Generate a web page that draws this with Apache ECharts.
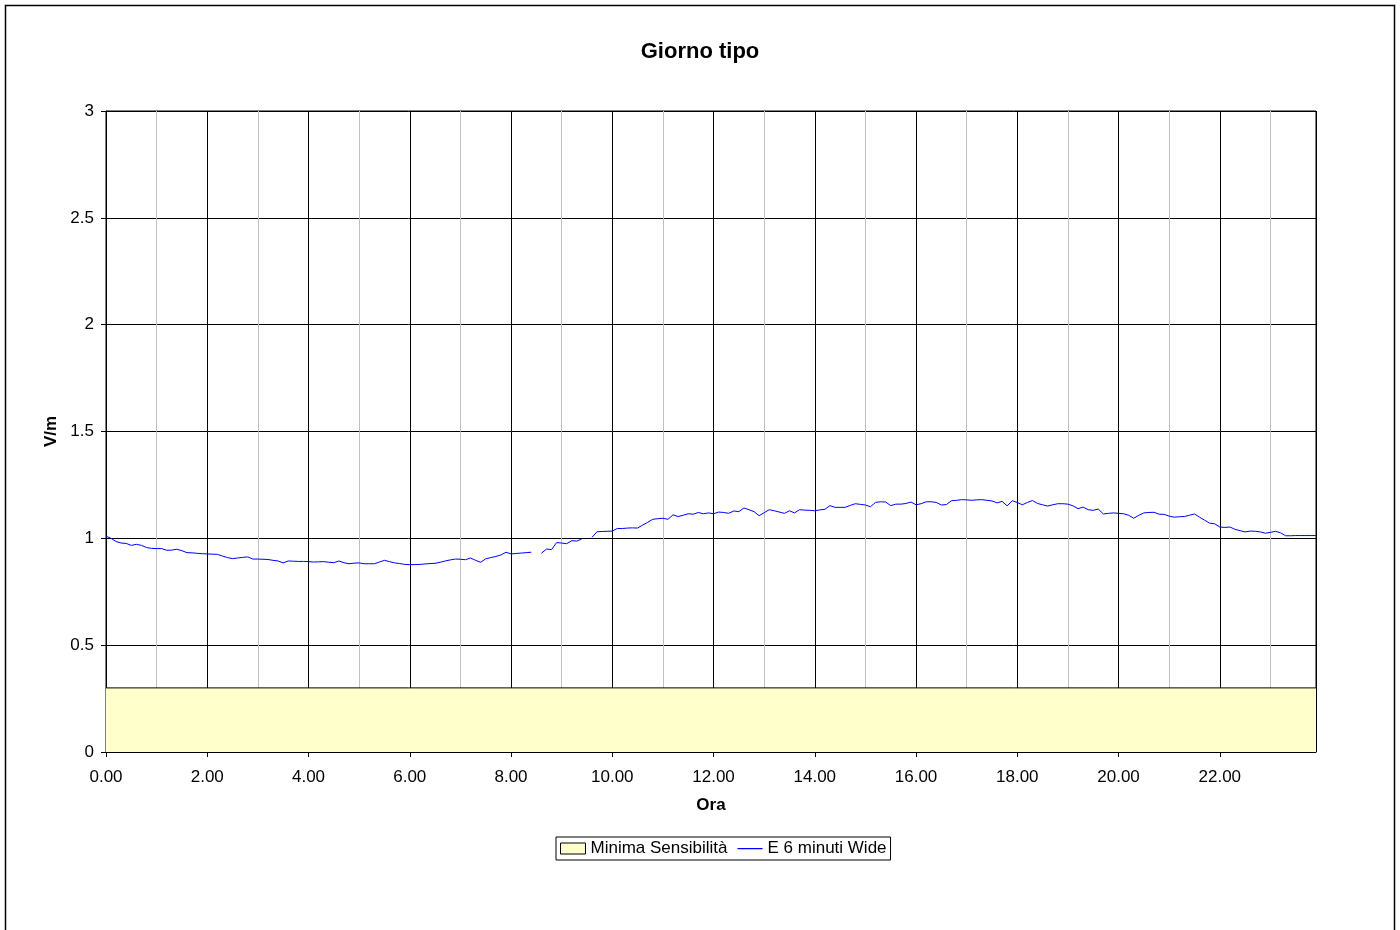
<!DOCTYPE html>
<html>
<head>
<meta charset="utf-8">
<script src="https://cdn.jsdelivr.net/npm/echarts@6/dist/echarts.min.js"></script>
<style>
html,body{margin:0;padding:0;background:#fff;}
#chart{width:1400px;height:930px;}
</style>
</head>
<body>
<div id="chart"></div>
<script>
// Values every 6 minutes (0.1 h), '-' = missing sample
var e00_06 = [1.01,1.00,0.985,0.978,0.976,0.967,0.972,0.967,0.957,0.953,
  0.952,0.952,0.944,0.945,0.949,0.942,0.933,0.932,0.930,0.928,
  0.927,0.926,0.925,0.917,0.910,0.905,0.908,0.911,0.913,0.903,
  0.903,0.902,0.901,0.897,0.894,0.885,0.894,0.893,0.892,0.892,
  0.891,0.889,0.890,0.891,0.888,0.886,0.894,0.886,0.881,0.884,
  0.885,0.881,0.881,0.881,0.889,0.897,0.891,0.885,0.882,0.878];
var e06_12 = [0.877,0.877,0.878,0.880,0.882,0.883,0.888,0.894,0.899,0.903,
  0.902,0.900,0.908,0.897,0.888,0.904,0.910,0.915,0.922,0.935,
  0.927,0.929,0.931,0.933,0.935,'-',0.930,0.950,0.947,0.980,
  0.978,0.975,0.989,0.987,0.998,'-',1.005,1.031,1.032,1.033,
  1.034,1.046,1.046,1.048,1.049,1.048,1.062,1.075,1.089,1.092,
  1.094,1.089,1.110,1.102,1.108,1.115,1.113,1.121,1.115,1.119];
var e12_18 = [1.115,1.123,1.121,1.117,1.128,1.125,1.142,1.134,1.125,1.106,
  1.120,1.134,1.129,1.123,1.117,1.129,1.119,1.134,1.132,1.131,
  1.129,1.133,1.136,1.153,1.145,1.145,1.145,1.154,1.162,1.159,
  1.156,1.148,1.168,1.171,1.170,1.153,1.160,1.160,1.163,1.170,
  1.157,1.162,1.171,1.171,1.168,1.156,1.158,1.176,1.178,1.181,
  1.180,1.178,1.180,1.181,1.178,1.175,1.166,1.173,1.152,1.176];
var e18_24 = [1.168,1.157,1.168,1.177,1.163,1.157,1.151,1.157,1.162,1.162,
  1.160,1.152,1.139,1.146,1.134,1.131,1.137,1.114,1.117,1.119,
  1.117,1.115,1.108,1.094,1.108,1.119,1.121,1.122,1.113,1.112,
  1.104,1.099,1.101,1.102,1.108,1.114,1.099,1.085,1.071,1.068,
  1.053,1.051,1.053,1.042,1.036,1.030,1.034,1.033,1.030,1.024,
  1.028,1.033,1.026,1.012,1.012,1.013,1.013,1.013,1.013,1.013];
var minSens = 0.3;
var hourMin = 0, hourMax = 23.9;
var seriesNames = ['Minima Sensibilità', 'E 6 minuti Wide'];

var allVals = e00_06.concat(e06_12, e12_18, e18_24);
var lineData = allVals.map(function (v, i) { return [i / 10, v]; });
var sensData = [[hourMin, minSens], [hourMax, minSens]];

var FONT = '"Liberation Sans", Arial, sans-serif';
var chart = echarts.init(document.getElementById('chart'), null, {renderer: 'canvas'});
chart.setOption({
  backgroundColor: '#ffffff',
  animation: false,
  graphic: [{
    type: 'rect', silent: true, z: -10,
    shape: {x: 5.5, y: 5.5, width: 1389, height: 1000},
    style: {fill: 'none', stroke: '#000', lineWidth: 1.5}
  }],
  title: {
    text: 'Giorno tipo', left: 'center', top: 36,
    textStyle: {fontFamily: FONT, fontSize: 22, fontWeight: 'bold', color: '#000'}
  },
  legend: {
    top: 837, left: 556,
    itemWidth: 25, itemHeight: 11, itemGap: 10,
    borderColor: '#000', borderWidth: 1, padding: [3, 4, 3, 4],
    textStyle: {fontFamily: FONT, fontSize: 17, color: '#000'},
    data: [
      {name: seriesNames[0], icon: 'rect', itemStyle: {color: '#FFFFCC', borderColor: '#000', borderWidth: 1}},
      {name: seriesNames[1], icon: 'path://M0,0L0.01,0Z M0,5L26,5L26,6.2L0,6.2Z M0,11L0.01,11Z',
        itemStyle: {color: '#0000FF', borderWidth: 0}}
    ]
  },
  grid: {left: 106, right: 84, top: 111, bottom: 178, show: true, borderColor: '#000', borderWidth: 1, backgroundColor: 'transparent'},
  xAxis: [{
    type: 'value', min: hourMin, max: hourMax, interval: 1, position: 'bottom',
    axisLine: {show: false}, axisTick: {show: false}, axisLabel: {show: false},
    splitLine: {show: true, lineStyle: {color: '#c0c0c0', width: 1}}
  }, {
    type: 'value', min: hourMin, max: hourMax, interval: 2, position: 'bottom',
    name: 'Ora', nameLocation: 'middle', nameGap: 45,
    nameTextStyle: {fontFamily: FONT, fontSize: 17, fontWeight: 'bold', color: '#000'},
    axisLine: {show: true, onZero: false, lineStyle: {color: '#000', width: 1}},
    axisTick: {show: true, length: 5, inside: false, lineStyle: {color: '#000'}},
    axisLabel: {margin: 17, fontFamily: FONT, fontSize: 17, color: '#000', showMaxLabel: false,
      formatter: function (v) { return v.toFixed(2); }},
    splitLine: {show: true, lineStyle: {color: '#000', width: 1}}
  }],
  yAxis: {
    type: 'value', min: 0, max: 3, interval: 0.5,
    name: 'V/m', nameLocation: 'middle', nameGap: 44, nameRotate: 90,
    nameTextStyle: {fontFamily: FONT, fontSize: 17, fontWeight: 'bold', color: '#000'},
    axisLine: {show: true, lineStyle: {color: '#000', width: 1}},
    axisTick: {show: true, length: 5, inside: false, lineStyle: {color: '#000'}},
    axisLabel: {margin: 12, fontFamily: FONT, fontSize: 17, color: '#000'},
    splitLine: {show: true, lineStyle: {color: '#000', width: 1}}
  },
  series: [{
    name: seriesNames[0], type: 'line', xAxisIndex: 1, data: sensData,
    symbol: 'none', z: 3,
    itemStyle: {color: '#FFFFCC', borderColor: '#000'},
    lineStyle: {color: '#000', width: 1},
    areaStyle: {color: '#FFFFCC', opacity: 1, origin: 'start'}
  }, {
    name: seriesNames[1], type: 'line', xAxisIndex: 1, data: lineData,
    symbol: 'none', connectNulls: false, z: 4,
    itemStyle: {color: '#0000FF'},
    lineStyle: {color: '#0000FF', width: 1}
  }]
});
</script>
</body>
</html>
